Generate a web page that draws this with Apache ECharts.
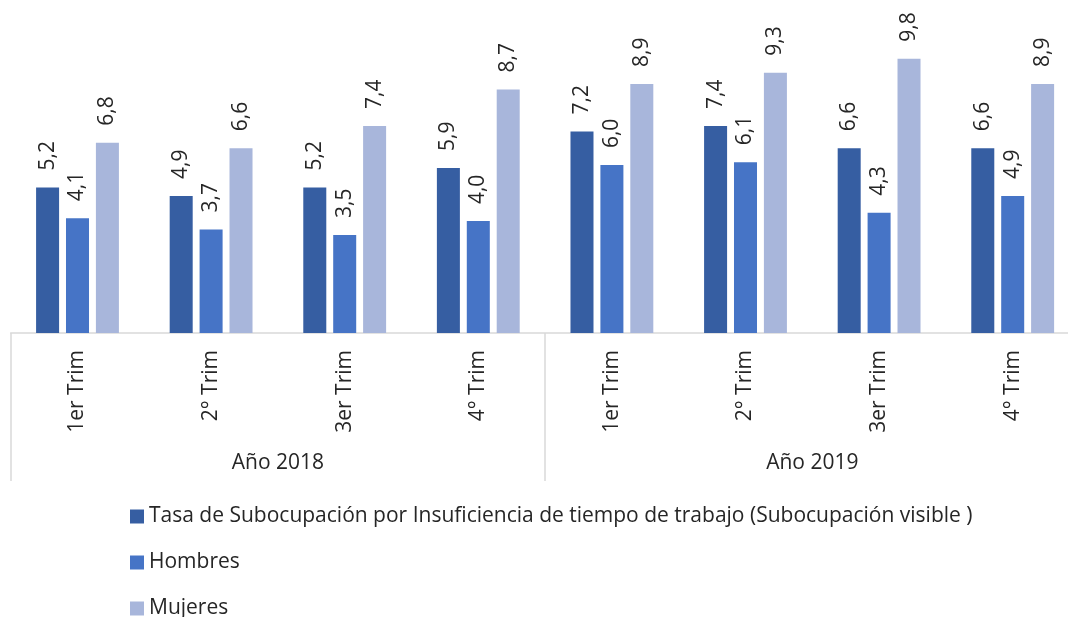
<!DOCTYPE html>
<html>
<head>
<meta charset="utf-8">
<script src="https://cdn.jsdelivr.net/npm/echarts@6/dist/echarts.min.js"></script>
<style>
html,body{margin:0;padding:0;background:#fff;overflow:hidden;}
#chart{width:1080px;height:640px;}
</style>
</head>
<body>
<div id="chart"></div>
<script>
const categories = ['1er Trim', '2° Trim', '3er Trim', '4° Trim', '1er Trim', '2° Trim', '3er Trim', '4° Trim'];
const years = ['Año 2018', 'Año 2019'];
const seriesNames = ['Tasa de Subocupación por Insuficiencia de tiempo de trabajo (Subocupación visible )', 'Hombres', 'Mujeres'];
const tasa = [5.2, 4.9, 5.2, 5.9, 7.2, 7.4, 6.6, 6.6];
const hombres = [4.1, 3.7, 3.5, 4.0, 6.0, 6.1, 4.3, 4.9];
const mujeres = [6.8, 6.6, 7.4, 8.7, 8.9, 9.3, 9.8, 8.9];

const FONT = 'Open Sans';
const FS = 21;
const TXT = '#262626';
const colors = ['#365EA2', '#4674C6', '#A8B6DB'];

const chart = echarts.init(document.getElementById('chart'), null, {renderer: 'canvas', width: 1080, height: 640});
const labelCfg = {
  show: true,
  position: 'top',
  rotate: 90,
  align: 'left',
  verticalAlign: 'middle',
  distance: 17,
  fontFamily: FONT,
  fontSize: FS,
  color: TXT,
  formatter: p => p.value.toFixed(1).replace('.', ',')
};
function mk(name, data, i) {
  return {
    name: name, type: 'bar', data: data,
    xAxisIndex: 0, yAxisIndex: 0,
    barGap: '30%', barCategoryGap: '38%',
    itemStyle: {color: colors[i]},
    label: labelCfg
  };
}
const gridBottom = 640 - 333;
chart.setOption({
  animation: false,
  backgroundColor: '#fff',
  grid: [
    {left: 10.7, right: 0.5, top: 0, bottom: gridBottom, containLabel: false},
    {left: 10.7, right: 0.5, top: 0, bottom: gridBottom, containLabel: false}
  ],
  xAxis: [
    {
      type: 'category', gridIndex: 0, data: categories, position: 'bottom',
      axisLine: {show: true, lineStyle: {color: '#D9D9D9', width: 1.5}},
      axisTick: {show: false},
      axisLabel: {rotate: 90, margin: 17, interval: 0, fontFamily: FONT, fontSize: FS, color: TXT}
    },
    {
      type: 'category', gridIndex: 1, data: years, position: 'bottom',
      axisLine: {show: false},
      axisTick: {show: true, length: 148, alignWithLabel: false, lineStyle: {color: '#D9D9D9', width: 1.5}},
      axisLabel: {margin: 120, interval: 0, fontFamily: FONT, fontSize: FS, color: TXT}
    }
  ],
  yAxis: [
    {type: 'value', gridIndex: 0, min: 0, max: 11.9, show: false, splitLine: {show: false}},
    {type: 'value', gridIndex: 1, min: 0, max: 11.9, show: false, splitLine: {show: false}}
  ],
  legend: {
    orient: 'vertical',
    left: 130, top: 506,
    padding: 0,
    itemWidth: 14, itemHeight: 14, itemGap: 25,
    icon: 'rect',
    textStyle: {fontFamily: FONT, fontSize: FS, color: TXT, lineHeight: 20},
    data: seriesNames
  },
  series: [mk(seriesNames[0], tasa, 0), mk(seriesNames[1], hombres, 1), mk(seriesNames[2], mujeres, 2)]
});
</script>
</body>
</html>
